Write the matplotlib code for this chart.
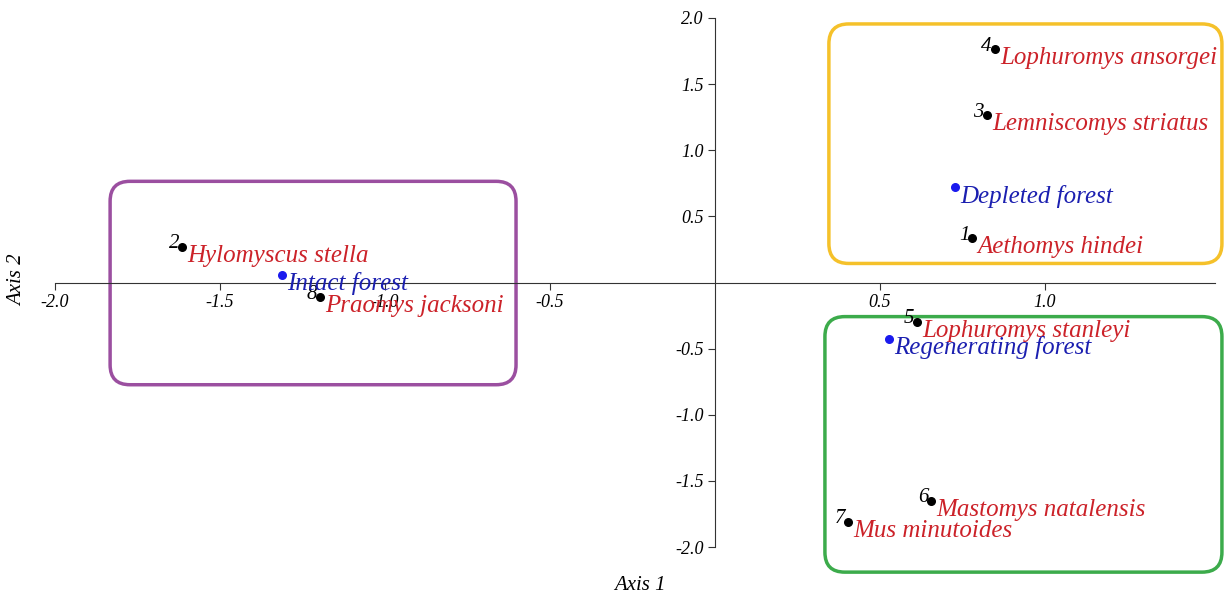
import matplotlib.pyplot as plt
from matplotlib.patches import FancyBboxPatch

# species scores (axis 1, axis 2)
species = ['Aethomys hindei', 'Hylomyscus stella', 'Lemniscomys striatus', 'Lophuromys ansorgei',
           'Lophuromys stanleyi', 'Mastomys natalensis', 'Mus minutoides', 'Praomys jacksoni']
species_x = [0.78, -1.615, 0.824, 0.848, 0.612, 0.655, 0.403, -1.197]
species_y = [0.333, 0.27, 1.265, 1.765, -0.295, -1.65, -1.81, -0.11]

# forest types
forests = ['Intact forest', 'Depleted forest', 'Regenerating forest']
forest_x = [-1.312, 0.727, 0.527]
forest_y = [0.06, 0.72, -0.424]

# groups: (x0, y0, x1, y1, colour)
groups = [(-1.833, -0.773, -0.603, 0.765, '#9b4fa0'),
          (0.345, 0.144, 1.536, 1.955, '#f5c12a'),
          (0.333, -2.19, 1.536, -0.258, '#3cab4b')]

xticks = [-2.0, -1.5, -1.0, -0.5, 0.5, 1.0]
yticks = [-2.0, -1.5, -1.0, -0.5, 0.5, 1.0, 1.5, 2.0]

font = 'Liberation Serif'
red = '#cc2229'
blue = '#1b1fb0'

fig = plt.figure(figsize=(12.26, 5.94), dpi=100)
ax = fig.add_axes([55 / 1226, 47 / 594, 1160 / 1226, 529 / 594])
ax.set_xlim(-2.0, 1.515)
ax.set_ylim(-2.0, 2.0)

for s in ['top', 'right']:
    ax.spines[s].set_visible(False)
ax.spines['left'].set_position('zero')
ax.spines['bottom'].set_position('zero')
ax.spines['left'].set_color('#333333')
ax.spines['bottom'].set_color('#333333')

ax.set_xticks(xticks)
ax.set_yticks(yticks)
ax.set_xticklabels(['%.1f' % v for v in xticks], fontfamily=font, fontstyle='italic', fontsize=13)
ax.set_yticklabels(['%.1f' % v for v in yticks], fontfamily=font, fontstyle='italic', fontsize=13)
ax.tick_params(length=5, color='#333333', pad=3)

# rounded group frames (y rounding scaled so corners look circular)
for x0, y0, x1, y1, c in groups:
    box = FancyBboxPatch((x0, y0), x1 - x0, y1 - y0,
                         boxstyle='round,pad=0,rounding_size=0.06',
                         mutation_aspect=2.5,
                         fill=False, edgecolor=c, linewidth=2.5, clip_on=False)
    ax.add_patch(box)

ax.scatter(species_x, species_y, s=30, color='black', zorder=5, clip_on=False)
ax.scatter(forest_x, forest_y, s=30, color='#1a1aee', zorder=5, clip_on=False)

for i, (name, x, y) in enumerate(zip(species, species_x, species_y)):
    ax.annotate(str(i + 1), (x, y), xytext=(-3, 3), textcoords='offset pixels',
                ha='right', va='center', fontsize=15, fontfamily=font,
                fontstyle='italic', color='black')
    ax.annotate(name, (x, y), xytext=(5, -9), textcoords='offset pixels',
                ha='left', va='center', fontsize=18, fontfamily=font,
                fontstyle='italic', color=red, annotation_clip=False)

for name, x, y in zip(forests, forest_x, forest_y):
    ax.annotate(name, (x, y), xytext=(5, -9), textcoords='offset pixels',
                ha='left', va='center', fontsize=18, fontfamily=font,
                fontstyle='italic', color=blue, annotation_clip=False)

fig.text(640 / 1226, 1 - 585 / 594, 'Axis 1', ha='center', va='center',
         fontsize=15, fontfamily=font, fontstyle='italic')
fig.text(18 / 1226, 1 - 280 / 594, 'Axis 2', ha='center', va='center', rotation=90,
         fontsize=15, fontfamily=font, fontstyle='italic')

fig.savefig('out.png', dpi=100)
